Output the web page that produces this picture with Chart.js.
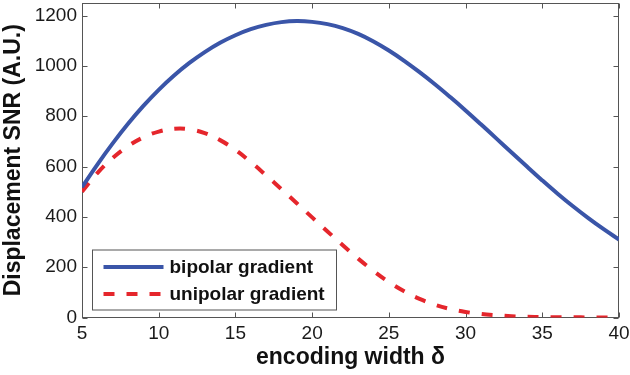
<!DOCTYPE html>
<html>
<head>
<meta charset="utf-8">
<script src="https://cdn.jsdelivr.net/npm/chart.js@4/dist/chart.umd.min.js"></script>
<style>
  html, body { margin: 0; padding: 0; background: #fff; }
  #wrap { width: 630px; height: 375px; }
</style>
</head>
<body>
<div id="wrap"><canvas id="c" width="630" height="375"></canvas></div>
<script>
// encoding width δ
const widths = [5,6,7,8,9,10,11,12,13,14,15,16,17,18,19,20,21,22,23,24,25,26,27,28,29,30,31,32,33,34,35,36,37,38,39,40];
const bipolar = [518,608,692,770,841,905,962,1012,1055,1092,1122,1146,1163,1174,1178,1175,1166,1150,1127,1097,1061,1020,975,927,876,823,768,712,656,600,545,492,442,395,351,310];
const unipolar = [500,574,634,681,716,739,750,748,733,705,666,618,565,510,454,398,342,287,234,185,141,104,74,51,34,22,14,9,5,3,2,1,1,0,0,0];
const seriesNames = ['bipolar gradient', 'unipolar gradient'];
const xTicks = [5,10,15,20,25,30,35,40];
const yTicks = [0,200,400,600,800,1000,1200];
const xTitle = 'encoding width δ';
const yTitle = 'Displacement SNR (A.U.)';

const BLUE = '#3a55a8';
const RED = '#e5262c';
const AXIS = '#555555';
const FONT = '"Liberation Sans", Arial, Helvetica, sans-serif';

const toXY = (arr) => widths.map((w, i) => ({ x: w, y: arr[i] }));

const boxTicks = {
  id: 'boxTicks',
  beforeDatasetsDraw(chart) {
    const { ctx, chartArea: a, scales: { x, y } } = chart;
    ctx.save();
    ctx.strokeStyle = AXIS;
    ctx.lineWidth = 1;
    const L = Math.round(a.left) + 0.5, R = Math.round(a.right) - 0.5;
    const T = Math.round(a.top) + 0.5, B = Math.round(a.bottom) - 0.5;
    ctx.strokeRect(L, T, R - L, B - T);
    const len = 5;
    ctx.beginPath();
    xTicks.forEach(v => {
      const px = Math.round(x.getPixelForValue(v)) + 0.5;
      ctx.moveTo(px, B); ctx.lineTo(px, B - len);
      ctx.moveTo(px, T); ctx.lineTo(px, T + len);
    });
    yTicks.forEach(v => {
      const py = Math.round(y.getPixelForValue(v)) + 0.5;
      ctx.moveTo(L, py); ctx.lineTo(L + len, py);
      ctx.moveTo(R, py); ctx.lineTo(R - len, py);
    });
    ctx.stroke();
    ctx.restore();
  }
};

const boxLegend = {
  id: 'boxLegend',
  afterDatasetsDraw(chart) {
    const { ctx, chartArea: a } = chart;
    const bx = a.left + 10.5, bw = 244, bh = 60;
    const by = a.bottom - 8 - bh + 0.5;
    ctx.save();
    ctx.fillStyle = '#fff';
    ctx.fillRect(bx, by, bw, bh);
    ctx.strokeStyle = AXIS;
    ctx.lineWidth = 1;
    ctx.strokeRect(bx, by, bw, bh);
    ctx.font = 'bold 19px ' + FONT;
    ctx.textBaseline = 'middle';
    ctx.textAlign = 'left';
    chart.data.datasets.forEach((ds, i) => {
      const cy = by + 17 + i * 27;
      ctx.beginPath();
      ctx.strokeStyle = ds.borderColor;
      ctx.lineWidth = ds.borderWidth;
      ctx.setLineDash(ds.borderDash || []);
      ctx.lineCap = 'butt';
      ctx.moveTo(bx + 11, cy);
      ctx.lineTo(bx + 71, cy);
      ctx.stroke();
      ctx.setLineDash([]);
      ctx.fillStyle = '#111';
      ctx.fillText(ds.label, bx + 77, cy + 1);
    });
    ctx.restore();
  }
};

new Chart(document.getElementById('c'), {
  type: 'line',
  data: {
    datasets: [
      { label: seriesNames[0], data: toXY(bipolar), borderColor: BLUE, borderWidth: 4,
        pointRadius: 0, tension: 0.4, fill: false },
      { label: seriesNames[1], data: toXY(unipolar), borderColor: RED, borderWidth: 4,
        borderDash: [11, 12], pointRadius: 0, tension: 0.4, fill: false }
    ]
  },
  options: {
    responsive: false,
    animation: false,
    devicePixelRatio: 1,
    layout: { padding: { left: 0, top: 3, right: 11, bottom: 0 } },
    plugins: { legend: { display: false }, tooltip: { enabled: false } },
    scales: {
      x: {
        type: 'linear', min: 5, max: 40,
        afterBuildTicks: (s) => { s.ticks = xTicks.map(v => ({ value: v })); },
        afterFit: (s) => { s.height = 57.5; s.paddingLeft = 0; s.paddingRight = 0; },
        grid: { display: false, drawTicks: false },
        border: { display: false },
        ticks: { color: '#1a1a1a', padding: 5, maxRotation: 0, autoSkip: false,
                 callback: (v) => String(v),
                 font: { family: FONT, size: 19 } },
        title: { display: true, text: xTitle, color: '#111',
                 font: { family: FONT, size: 23, weight: 'bold', lineHeight: 1.2 },
                 padding: { top: 0, bottom: 4 } }
      },
      y: {
        type: 'linear', min: 0, max: 1250,
        afterBuildTicks: (s) => { s.ticks = yTicks.map(v => ({ value: v })); },
        afterFit: (s) => { s.width = 82; s.paddingTop = 0; s.paddingBottom = 0; },
        grid: { display: false, drawTicks: false },
        border: { display: false },
        ticks: { color: '#1a1a1a', padding: 5, autoSkip: false,
                 callback: (v) => String(v),
                 font: { family: FONT, size: 19 } },
        title: { display: true, text: yTitle, color: '#111',
                 font: { family: FONT, size: 23, weight: 'bold', lineHeight: 1.2 },
                 padding: { top: 0, bottom: 0 } }
      }
    }
  },
  plugins: [boxTicks, boxLegend]
});
</script>
</body>
</html>
